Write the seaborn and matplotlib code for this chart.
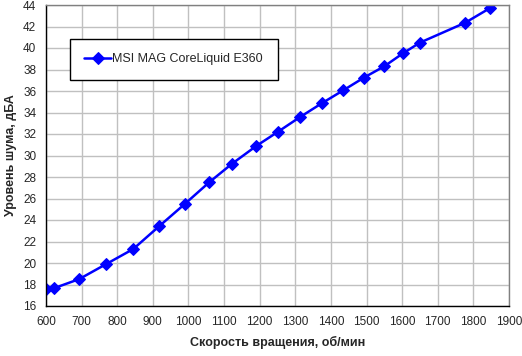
import matplotlib
matplotlib.use("Agg")
import matplotlib.pyplot as plt
import seaborn as sns
import pandas as pd

rpm = [600, 622, 693, 769, 845, 917, 990, 1058, 1121, 1191, 1251, 1312, 1374,
       1434, 1493, 1550, 1602, 1650, 1777, 1846]
noise = [17.55, 17.65, 18.5, 19.9, 21.3, 23.4, 25.5, 27.5, 29.2, 30.9, 32.2,
         33.55, 34.85, 36.05, 37.25, 38.3, 39.5, 40.5, 42.35, 43.7]
series_name = "MSI MAG CoreLiquid E360"
x_ticks = list(range(600, 1901, 100))
y_ticks = list(range(16, 45, 2))

sns.set_style("white")
plt.rcParams['font.family'] = ['Liberation Sans', 'DejaVu Sans']

df = pd.DataFrame({"rpm": rpm, "noise": noise, "series": series_name})

fig = plt.figure(figsize=(5.22, 3.56), dpi=100)
ax = fig.add_axes([46/522, 1 - 306/356, (509-46)/522, (306-5)/356])

sns.lineplot(data=df, x="rpm", y="noise", hue="series", palette=["#0000ff"],
             marker="D", markersize=6, markeredgecolor="#0000ff",
             linewidth=1.8, ax=ax)

ax.set_xlim(600, 1900)
ax.set_ylim(16, 44)
ax.set_xticks(x_ticks)
ax.set_yticks(y_ticks)
ax.tick_params(axis='both', labelsize=8.5, direction='out', length=4,
               width=1, color='black', pad=3)
ax.grid(True, color='#c0c0c0', linewidth=1)
ax.set_axisbelow(True)
for s in ['top', 'right']:
    ax.spines[s].set_color('#808080')
    ax.spines[s].set_linewidth(1)
for s in ['left', 'bottom']:
    ax.spines[s].set_color('black')
    ax.spines[s].set_linewidth(1)

ax.set_xlabel("Скорость вращения, об/мин", fontsize=9, fontweight='bold', labelpad=6)
ax.set_ylabel("Уровень шума, дБА", fontsize=9, fontweight='bold', labelpad=4)

leg = ax.legend(loc='upper left', bbox_to_anchor=((70-46)/463, 1 - (39-5)/301),
                fontsize=9, frameon=True, fancybox=False, borderpad=1.15,
                handlelength=2.1, handletextpad=0.15, borderaxespad=0)
leg.get_frame().set_edgecolor('black')
leg.get_frame().set_linewidth(1)
leg.get_frame().set_alpha(1)

fig.savefig("out.png", dpi=100)
